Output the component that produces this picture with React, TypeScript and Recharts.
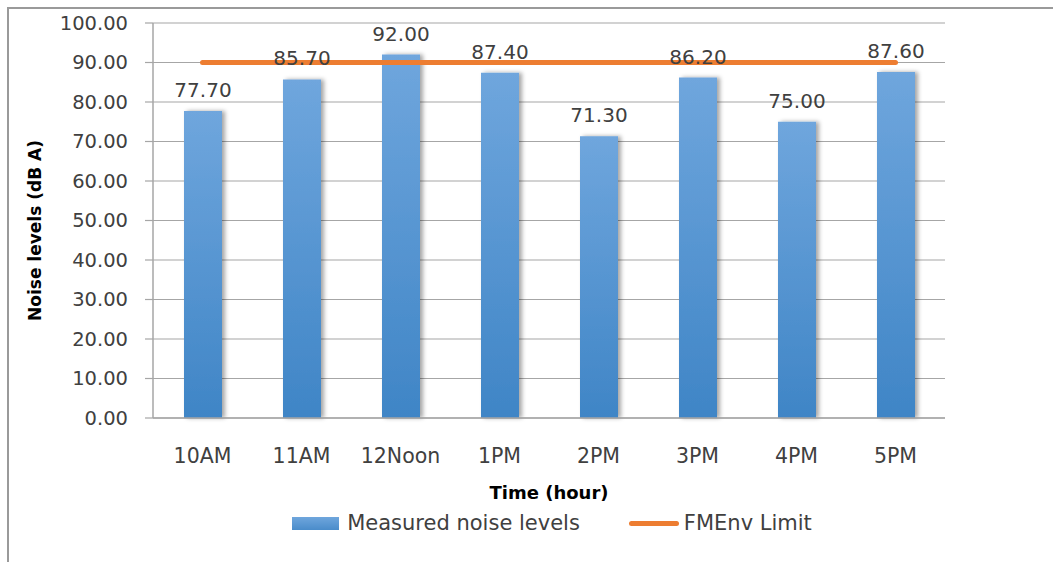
import React from 'react';
import {
  ComposedChart,
  Bar,
  Line,
  XAxis,
  YAxis,
  CartesianGrid,
  LabelList,
  Legend,
  Rectangle,
} from 'recharts';

// Hourly noise measurements against the FMEnv limit
const HOURS = ['10AM', '11AM', '12Noon', '1PM', '2PM', '3PM', '4PM', '5PM'];
const MEASURED = [77.7, 85.7, 92.0, 87.4, 71.3, 86.2, 75.0, 87.6];
const LIMIT = [90, 90, 90, 90, 90, 90, 90, 90];
const Y_TICKS = [0, 10, 20, 30, 40, 50, 60, 70, 80, 90, 100];

const BAR_COLOR = '#5b9bd5';
const LINE_COLOR = '#ed7d31';
const TEXT_COLOR = '#404040';
const GRID_COLOR = '#a6a6a6';
const FONT = '"DejaVu Sans", Verdana, sans-serif';

const data = HOURS.map((hour, i) => ({
  hour,
  measured: MEASURED[i],
  limit: LIMIT[i],
}));

function ChartLegend() {
  return (
    <div
      style={{
        display: 'flex',
        justifyContent: 'center',
        alignItems: 'center',
        fontFamily: FONT,
        fontSize: 21,
        color: TEXT_COLOR,
        paddingLeft: 51,
      }}
    >
      <div
        style={{
          width: 47,
          height: 13,
          background: 'linear-gradient(#6fa6dd, #4a8cca)',
          marginRight: 8,
        }}
      />
      <span style={{ marginRight: 49 }}>Measured noise levels</span>
      <div
        style={{
          width: 50,
          height: 5,
          borderRadius: 3,
          background: LINE_COLOR,
          marginRight: 5,
        }}
      />
      <span>FMEnv Limit</span>
    </div>
  );
}

export default function App() {
  return (
    <div
      style={{
        position: 'absolute',
        left: 0,
        top: 0,
        width: 1053,
        height: 562,
        background: '#fff',
        overflow: 'hidden',
      }}
    >
      {/* chart frame */}
      <div
        style={{
          position: 'absolute',
          left: 7,
          top: 7,
          width: 1100,
          height: 600,
          borderTop: '2px solid #9a9a9a',
          borderLeft: '2px solid #9a9a9a',
        }}
      />
      <ComposedChart
        width={1053}
        height={562}
        data={data}
        margin={{ top: 23, right: 108, bottom: 0, left: 30 }}
        style={{ position: 'absolute', left: 0, top: 0, fontFamily: FONT }}
      >
        <defs>
          <linearGradient id="barGrad" x1="0" y1="0" x2="0" y2="1">
            <stop offset="0%" stopColor="#6fa6dd" />
            <stop offset="100%" stopColor="#3f85c6" />
          </linearGradient>
          <filter id="barShadow" x="-20%" y="-5%" width="150%" height="110%">
            <feDropShadow dx="3" dy="0" stdDeviation="2" floodColor="#000" floodOpacity="0.35" />
          </filter>
        </defs>
        <CartesianGrid vertical={false} stroke={GRID_COLOR} strokeWidth={1.2} />
        <XAxis
          dataKey="hour"
          height={100}
          axisLine={{ stroke: GRID_COLOR, strokeWidth: 1.5 }}
          tickLine={false}
          tickMargin={24}
          tick={{ fill: TEXT_COLOR, fontSize: 20.5 }}
          label={{
            value: 'Time (hour)',
            position: 'insideBottom',
            offset: 19,
            fill: '#000',
            fontSize: 18,
            fontWeight: 'bold',
          }}
        />
        <YAxis
          width={123}
          domain={[0, 100]}
          ticks={Y_TICKS}
          interval={0}
          tickFormatter={(v: number) => v.toFixed(2)}
          axisLine={{ stroke: GRID_COLOR, strokeWidth: 1.5 }}
          tickLine={{ stroke: GRID_COLOR, strokeWidth: 1.2 }}
          tickSize={8}
          tickMargin={17}
          tick={{ fill: TEXT_COLOR, fontSize: 19.5 }}
          label={{
            value: 'Noise levels (dB A)',
            angle: -90,
            position: 'insideLeft',
            offset: 5,
            dy: 10,
            fill: '#000',
            fontSize: 17,
            fontWeight: 'bold',
            style: { textAnchor: 'middle' },
          }}
        />
        <Legend
          verticalAlign="bottom"
          height={44}
          content={() => <ChartLegend />}
          wrapperStyle={{ top: 511, left: 0, width: 1053 }}
        />
        <Bar
          dataKey="measured"
          name="Measured noise levels"
          barSize={38}
          fill="url(#barGrad)"
          isAnimationActive={false}
          shape={(props: any) => <Rectangle {...props} filter="url(#barShadow)" />}
        >
          <LabelList
            dataKey="measured"
            position="top"
            offset={14}
            formatter={(v: number) => v.toFixed(2)}
            style={{ fill: TEXT_COLOR, fontSize: 20, fontFamily: FONT }}
          />
        </Bar>
        <Line
          dataKey="limit"
          name="FMEnv Limit"
          stroke={LINE_COLOR}
          strokeWidth={5}
          strokeLinecap="round"
          dot={false}
          activeDot={false}
          isAnimationActive={false}
        />
      </ComposedChart>
    </div>
  );
}
